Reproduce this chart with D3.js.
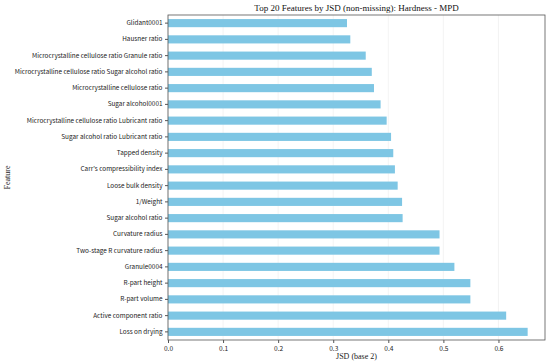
<!DOCTYPE html>
<html><head><meta charset="utf-8">
<script src="https://cdn.jsdelivr.net/npm/d3@7"></script>
<style>body{margin:0;background:#fff}svg{display:block}</style>
</head><body>
<script>
const features = ["Glidant0001","Hausner ratio","Microcrystalline cellulose ratio Granule ratio","Microcrystalline cellulose ratio Sugar alcohol ratio","Microcrystalline cellulose ratio","Sugar alcohol0001","Microcrystalline cellulose ratio Lubricant ratio","Sugar alcohol ratio Lubricant ratio","Tapped density","Carr's compressibility index","Loose bulk density","1/Weight","Sugar alcohol ratio","Curvature radius","Two-stage R curvature radius","Granule0004","R-part height","R-part volume","Active component ratio","Loss on drying"];
const jsd = [0.325,0.331,0.359,0.370,0.374,0.386,0.397,0.405,0.409,0.412,0.417,0.425,0.426,0.493,0.493,0.520,0.549,0.549,0.614,0.653];
const xTicks = [0.0,0.1,0.2,0.3,0.4,0.5,0.6];
const title = "Top 20 Features by JSD (non-missing): Hardness - MPD";
const xLabel = "JSD (base 2)";
const yLabel = "Feature";

const W=550,H=363, L=168, R=545, T=15, B=340;
const svg=d3.select("body").append("svg").attr("width",W).attr("height",H);
const x=d3.scaleLinear().domain([0,0.6845]).range([L,R]);
const y=d3.scaleBand().domain(features).range([T,B]).paddingInner(0.5).paddingOuter(0.25);
const sans="'Noto Sans CJK JP','Noto Sans',sans-serif", serif="'Liberation Serif','Times New Roman',serif";

// grid
svg.append("g").selectAll("line").data(xTicks).join("line")
 .attr("x1",d=>x(d)).attr("x2",d=>x(d)).attr("y1",T).attr("y2",B)
 .attr("stroke","#ebebeb").attr("stroke-width",0.6);

svg.append("g").selectAll("rect").data(features).join("rect")
 .attr("x",x(0)).attr("y",d=>y(d)).attr("height",y.bandwidth())
 .attr("width",(d,i)=>x(jsd[i])-x(0)).attr("fill","#7ec6e4");

// frame
svg.append("rect").attr("x",L).attr("y",T).attr("width",R-L).attr("height",B-T)
 .attr("fill","none").attr("stroke","#555").attr("stroke-width",0.8);

const xa=svg.append("g").attr("transform",`translate(0,${B})`)
 .call(d3.axisBottom(x).tickValues(xTicks).tickFormat(d3.format(".1f")).tickSize(3).tickPadding(3));
xa.select(".domain").remove();
xa.selectAll("text").attr("font-family",sans).attr("font-size",6.6).attr("fill","#222");
xa.selectAll("line").attr("stroke","#555");

const ya=svg.append("g").attr("transform",`translate(${L},0)`)
 .call(d3.axisLeft(y).tickSize(3).tickPadding(2.5));
ya.select(".domain").remove();
ya.selectAll("text").attr("font-family",sans).attr("font-size",6.4).attr("fill","#222");
ya.selectAll("line").attr("stroke","#555");

svg.append("text").attr("x",(L+R)/2).attr("y",11).attr("text-anchor","middle")
 .attr("font-family",serif).attr("font-size",9).attr("fill","#111").text(title);
svg.append("text").attr("x",(L+R)/2).attr("y",359).attr("text-anchor","middle")
 .attr("font-family",serif).attr("font-size",8).attr("fill","#222").text(xLabel);
svg.append("text").attr("transform",`translate(10,${(T+B)/2}) rotate(-90)`).attr("text-anchor","middle")
 .attr("font-family",serif).attr("font-size",8).attr("fill","#222").text(yLabel);
</script>
</body></html>
